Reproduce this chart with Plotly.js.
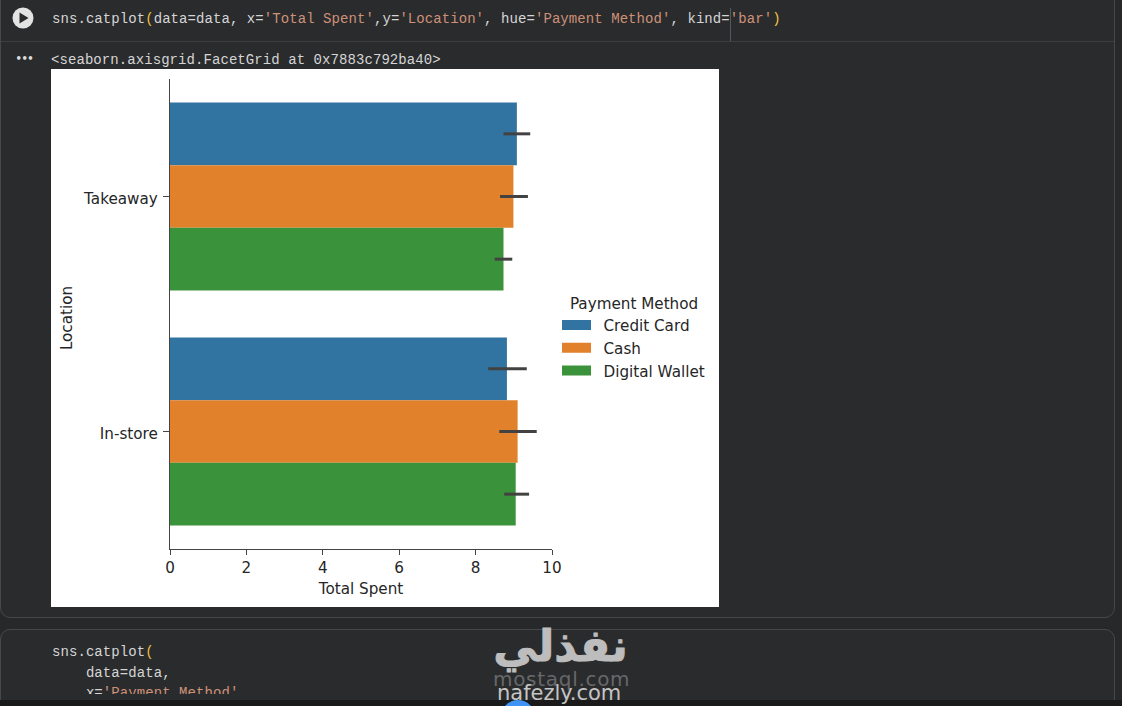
<!DOCTYPE html>
<html><head><meta charset="utf-8">
<script src="https://cdn.plot.ly/plotly-3.0.1.min.js"></script>
<style>
html,body{margin:0;padding:0;width:1122px;height:706px;overflow:hidden;background:#27282a;}
#page{position:absolute;left:0;top:0;width:1122px;height:706px;overflow:hidden;background:#27282a;}
.card{position:absolute;background:#2a2b2d;border:1.5px solid #46484a;box-sizing:border-box;}
.hline{position:absolute;background:#3c3e40;height:1px;}
.code{position:absolute;font-family:"Liberation Mono",monospace;font-size:14px;letter-spacing:.07px;color:#d5d5d5;white-space:pre;line-height:20px;}
.s{color:#ce9178}.p{color:#f0c040}
#chart{position:absolute;left:51px;top:69px;width:668px;height:538px;background:#fff;}
#bar{position:absolute;left:0;top:700px;width:1122px;height:6px;background:#1a1a1a;}
.wm{position:absolute;white-space:pre;font-family:"DejaVu Sans",sans-serif;line-height:1;}
</style></head><body>
<div id="page">
  <div class="card" style="left:0;top:-12px;width:1115px;height:630px;border-radius:10px;"></div>
  <div class="card" style="left:0;top:629px;width:1115px;height:90px;border-radius:10px;"></div>
  <div class="hline" style="left:1px;top:41px;width:1113px;"></div>
  <svg style="position:absolute;left:12px;top:7px" width="22" height="22" viewBox="0 0 22 22">
    <circle cx="11" cy="11" r="10.5" fill="#e3e3e3"/><path d="M7.5 5.5 L16.5 11 L7.5 16.5 Z" fill="#2a2b2d"/>
  </svg>
  <div class="code" style="left:52px;top:9px;">sns.catplot<span class="p">(</span>data=data, x=<span class="s">'Total Spent'</span>,y=<span class="s">'Location'</span>, hue=<span class="s">'Payment Method'</span>, kind=<span class="s">'bar'</span><span class="p">)</span></div>
  <div style="position:absolute;left:730px;top:8px;width:1px;height:33px;background:#55575a;"></div>
  <div style="position:absolute;left:15.5px;top:56px;color:#dcdcdc;font:bold 10px 'DejaVu Sans';letter-spacing:-.5px;line-height:5px;">•••</div>
  <div class="code" style="left:51px;top:50px;">&lt;seaborn.axisgrid.FacetGrid at 0x7883c792ba40&gt;</div>
  <div id="chart"></div>
  <div class="code" style="left:52px;top:642px;">sns.catplot<span class="p">(</span></div>
  <div class="code" style="left:52px;top:663px;">    data=data,</div>
  <div style="position:absolute;left:52px;top:683px;width:300px;height:11px;overflow:hidden;">
    <div class="code" style="left:0;top:0;">    x=<span class="s">'Payment Method'</span>,</div>
  </div>
  <div id="bar"></div>
  <div style="position:absolute;left:501px;top:700px;width:34px;height:34px;border-radius:17px;background:#3f93f5;"></div>
  <div class="wm" style="left:493px;top:669px;font-size:20px;color:#66686a;letter-spacing:.7px;">mostaql.com</div>
  <div class="wm" dir="rtl" style="left:492px;top:624px;width:137px;text-align:center;font-size:44px;font-weight:bold;color:#bdbdbd;-webkit-text-stroke:1px #bdbdbd;">نفذلي</div>
  <div class="wm" style="left:497px;top:683px;font-size:21px;color:#c4c4c4;">nafezly.com</div>
</div>
<script>
var categories = ['Takeaway', 'In-store'];
var paymentMethods = ['Credit Card', 'Cash', 'Digital Wallet'];
var colors = ['#3274a1', '#e1812c', '#3a923a'];
var creditCard = [9.08, 8.82];
var cash = [8.99, 9.10];
var digitalWallet = [8.73, 9.05];
var creditCardLow = [8.73, 8.33];
var creditCardHigh = [9.43, 9.34];
var cashLow = [8.64, 8.62];
var cashHigh = [9.37, 9.60];
var digitalWalletLow = [8.50, 8.75];
var digitalWalletHigh = [8.96, 9.40];
var xTicks = [0, 2, 4, 6, 8, 10];

var series = [creditCard, cash, digitalWallet];
var lows = [creditCardLow, cashLow, digitalWalletLow];
var highs = [creditCardHigh, cashHigh, digitalWalletHigh];
var textColor = '#262626';
var font = {family: '"DejaVu Sans", sans-serif', size: 15.2, color: textColor};

var traces = paymentMethods.map(function (name, i) {
  return {
    type: 'bar', orientation: 'h', name: name, legendgroup: name,
    y: categories, x: series[i],
    marker: {color: colors[i], line: {width: 0}},
    error_x: {
      type: 'data', symmetric: false,
      array: highs[i].map(function (h, k) { return h - series[i][k]; }),
      arrayminus: lows[i].map(function (l, k) { return series[i][k] - l; }),
      color: '#424242', thickness: 3, width: 0
    },
    hoverinfo: 'x+y+name'
  };
});

var layout = {
  width: 668, height: 538,
  margin: {l: 118.5, r: 167, t: 10, b: 58, pad: 0, autoexpand: false},
  paper_bgcolor: '#fff', plot_bgcolor: '#fff',
  font: font,
  barmode: 'group', bargap: 0.2, bargroupgap: 0,
  xaxis: {
    range: [0, 10], tickvals: xTicks, ticktext: xTicks.map(String),
    showgrid: false, zeroline: false, showline: true, linecolor: '#444', linewidth: 1.3,
    ticks: 'outside', ticklen: 5, tickwidth: 1.2, tickcolor: '#444', tickfont: font,
    title: {text: 'Total Spent', font: font, standoff: 6}
  },
  yaxis: {
    type: 'category', categoryorder: 'array', categoryarray: categories,
    range: [1.5, -0.5],
    showgrid: false, zeroline: false, showline: true, linecolor: '#444', linewidth: 1.3,
    ticks: 'outside', ticklen: 6, tickwidth: 1.2, tickcolor: '#444', tickfont: font,
    ticklabelstandoff: 2, ticklabelshift: -2,
    title: {text: 'Location', font: font, standoff: 6}
  },
  showlegend: true,
  legend: {
    x: 0.9935, xanchor: 'left', y: 0.448, yanchor: 'middle',
    bgcolor: 'rgba(0,0,0,0)', borderwidth: 0,
    itemwidth: 44, tracegroupgap: 3, traceorder: 'normal',
    font: font,
    title: {text: 'Payment Method', font: font, side: 'top center'}
  }
};

Plotly.newPlot('chart', traces, layout, {displayModeBar: false, responsive: false}).then(function (gd) {
  gd.querySelectorAll('.legend .legendbar path, .legend .legendpoints path').forEach(function (p) {
    p.setAttribute('d', 'M14.5,5H-14.5V-5H14.5Z');
  });
  var lt = gd.querySelector('.legendtitletext');
  if (lt) lt.setAttribute('transform', 'translate(4,0) ' + (lt.getAttribute('transform') || ''));
  var yt = gd.querySelector('.ytitle');
  if (yt) yt.setAttribute('transform', 'translate(0,4) ' + (yt.getAttribute('transform') || ''));
});
</script>
</body></html>
